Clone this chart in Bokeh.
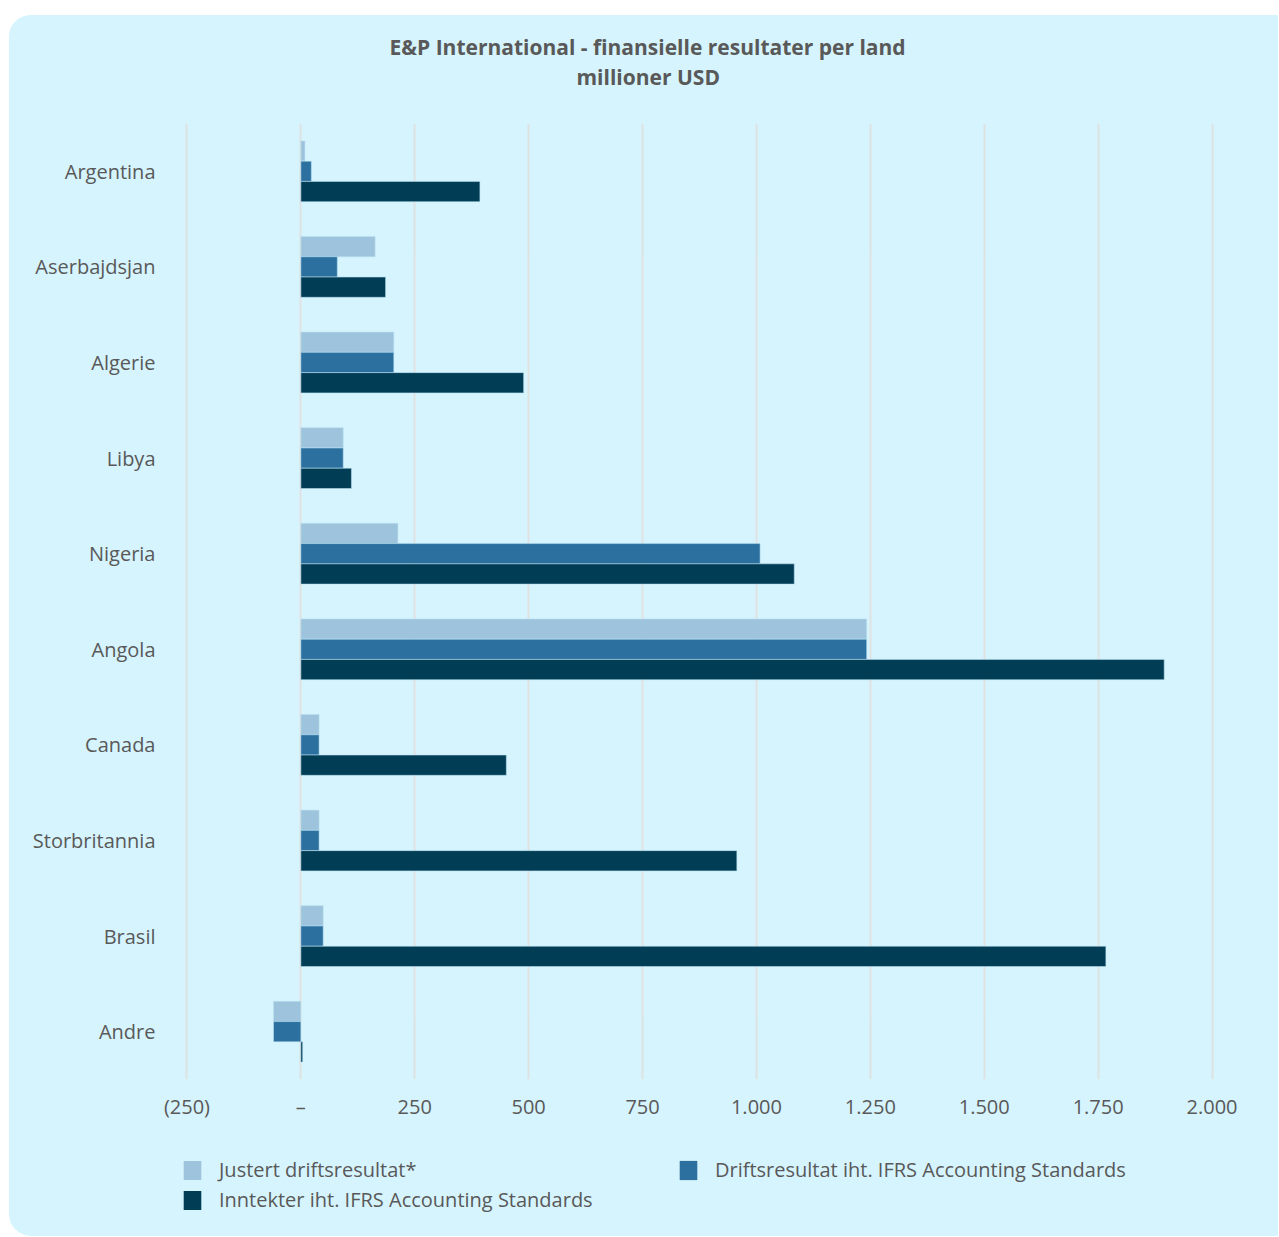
from bokeh.plotting import figure
from bokeh.layouts import column
from bokeh.models import (ColumnDataSource, FactorRange, Range1d, FixedTicker,
                          Title, Legend, LegendItem)
from bokeh.transform import dodge
from bokeh.embed import file_html
from bokeh.resources import INLINE

countries = ["Argentina", "Aserbajdsjan", "Algerie", "Libya", "Nigeria",
             "Angola", "Canada", "Storbritannia", "Brasil", "Andre"]
justert = [9, 163, 204, 93, 213, 1242, 40, 40, 49, -60]
drifts = [23, 80, 204, 93, 1008, 1242, 40, 40, 49, -60]
inntekter = [393, 186, 489, 111, 1083, 1895, 451, 957, 1767, 4]

tick_values = [-250, 0, 250, 500, 750, 1000, 1250, 1500, 1750, 2000]
tick_labels = ["(250)", "\u2013", "250", "500", "750", "1.000", "1.250",
               "1.500", "1.750", "2.000"]

series_names = ["Justert driftsresultat*",
                "Driftsresultat iht. IFRS Accounting Standards",
                "Inntekter iht. IFRS Accounting Standards"]
colors = ["#9ec4dd", "#2c70a0", "#023d56"]
fields = ["justert", "drifts", "inntekter"]

title_1 = "E&P International - finansielle resultater per land"
title_2 = "millioner USD"

BG = "#d6f4fd"
TXT = "#595959"
FONT = "Open Sans"
EDGE = "#b9e0f0"

src = ColumnDataSource(dict(country=countries, justert=justert,
                            drifts=drifts, inntekter=inntekter))

# ---------------- main chart ----------------
p = figure(width=1269, height=1107, output_backend="svg", toolbar_location=None,
           y_range=FactorRange(*reversed(countries)),
           x_range=Range1d(-262, 2012),
           min_border_left=172, min_border_right=61,
           min_border_top=108, min_border_bottom=42)
p.background_fill_color = BG
p.border_fill_color = BG
p.outline_line_color = None

bh = 0.212
for f, c, off in zip(fields, colors, (bh, 0, -bh)):
    p.hbar(y=dodge("country", off, range=p.y_range), left=0, right=f,
           height=bh, source=src, fill_color=c, line_color=EDGE,
           line_width=0.8, line_alpha=0.7)

p.xaxis.ticker = FixedTicker(ticks=tick_values)
p.xaxis.major_label_overrides = {v: l for v, l in zip(tick_values, tick_labels)}
for ax in (p.xaxis[0], p.yaxis[0]):
    ax.axis_line_color = None
    ax.major_tick_line_color = None
    ax.minor_tick_line_color = None
    ax.major_tick_out = 0
    ax.major_tick_in = 0
    ax.major_label_text_font = FONT
    ax.major_label_text_font_size = "20px"
    ax.major_label_text_color = TXT
p.xaxis.major_label_standoff = 13
p.yaxis.major_label_standoff = 26

p.xgrid.grid_line_color = "#dfe2e3"
p.xgrid.grid_line_width = 2
p.ygrid.grid_line_color = None

# titles (sub-title first: closest to the frame; its empty 2nd line is the gap)
p.add_layout(Title(text=title_2 + "\n", align="left", offset=395, standoff=0,
                   vertical_align="bottom", text_line_height=1.17,
                   text_font=FONT, text_font_style="bold",
                   text_font_size="21px", text_color=TXT), "above")
p.add_layout(Title(text=title_1, align="left", offset=208, standoff=0,
                   text_font=FONT, text_font_style="bold",
                   text_font_size="21px", text_color=TXT), "above")

# ---------------- legend strip ----------------
# swatch renderers (zero height, outside the visible range) only feed the legend
p2 = figure(width=1269, height=114, output_backend="svg", toolbar_location=None,
            y_range=FactorRange(*countries), x_range=Range1d(3000, 3001),
            min_border=0, x_axis_type=None, y_axis_type=None)
p2.background_fill_color = None
p2.border_fill_color = None
p2.outline_line_color = None
p2.grid.visible = False

swatches = [p2.hbar(y="country", left=0, right=f, height=0, source=src,
                    fill_color=c, line_color=None)
            for f, c in zip(fields, colors)]

legend = Legend(items=[LegendItem(label=series_names[0], renderers=[swatches[0]]),
                       LegendItem(label=series_names[2], renderers=[swatches[2]]),
                       LegendItem(label=series_names[1], renderers=[swatches[1]])],
                location=(0, 23), orientation="vertical", nrows=2,
                glyph_width=22, glyph_height=24, spacing=3, padding=0, margin=0,
                label_standoff=16, label_width=455,
                label_text_font=FONT, label_text_font_size="20px",
                label_text_color=TXT, border_line_color=None,
                background_fill_alpha=0)
p2.add_layout(legend, "center")

layout = column(p, p2, spacing=0)
layout.margin = (15, 0, 0, 9)
layout.styles = {"border-radius": "22px 0 0 22px", "overflow": "hidden",
                 "background-color": BG}

open("out.html", "w").write(file_html(layout, INLINE))
